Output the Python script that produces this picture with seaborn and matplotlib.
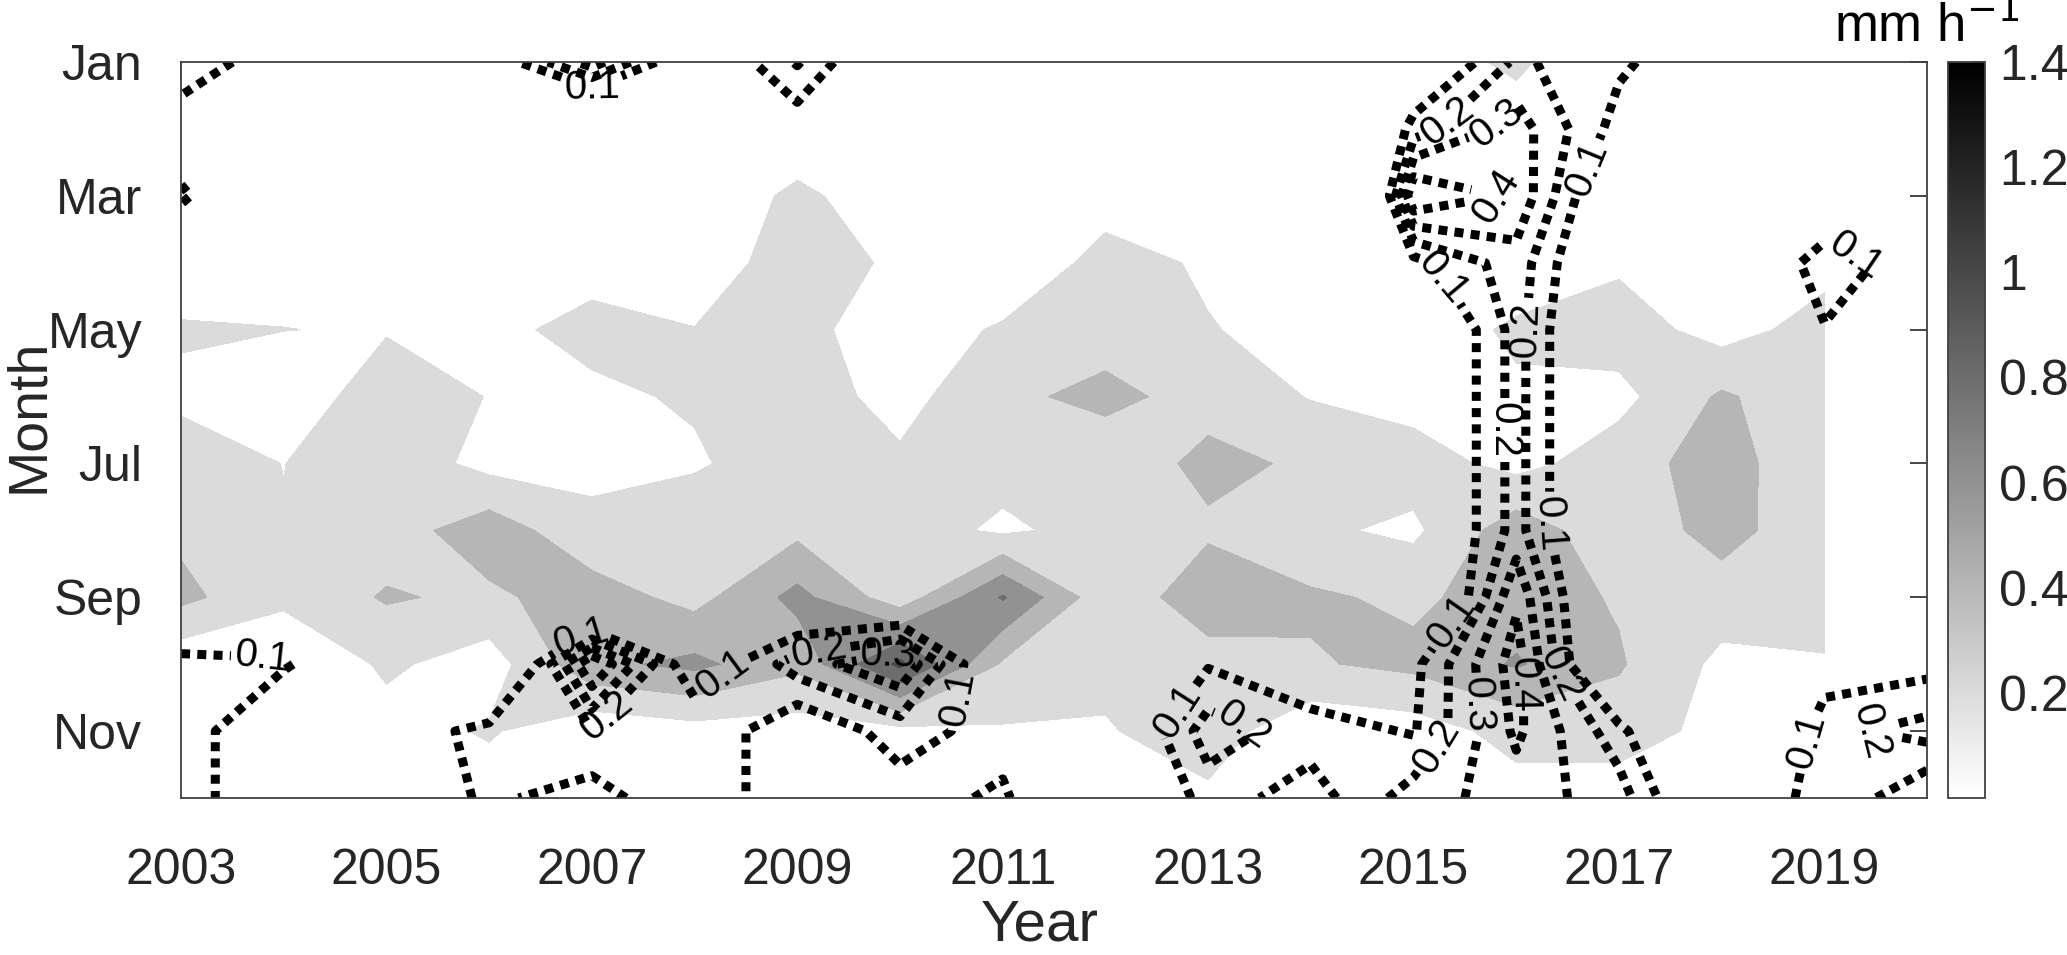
import numpy as np
import matplotlib
matplotlib.use("Agg")
import matplotlib.pyplot as plt
from matplotlib.colors import Normalize
from matplotlib.cm import ScalarMappable
import seaborn as sns

sns.set_style("white")
plt.rcParams['font.family'] = ['Liberation Sans', 'DejaVu Sans']

# grid: years (x) and months (y)
years = [2003, 2004, 2005, 2006, 2007, 2008, 2009, 2010, 2011, 2012,
         2013, 2014, 2015, 2016, 2017, 2018, 2019, 2020]
months = [1, 2, 3, 4, 5, 6, 7, 8, 9, 10, 11, 12]
month_ticks = [1, 3, 5, 7, 9, 11]
month_labels = ['Jan', 'Mar', 'May', 'Jul', 'Sep', 'Nov']
year_ticks = [2003, 2005, 2007, 2009, 2011, 2013, 2015, 2017, 2019]
nan = np.nan

# filled field: monthly mean rain rate (mm/h), 2020 missing
rate_jan = [0.08, 0.08, 0.08, 0.08, 0.08, 0.08, 0.08, 0.08, 0.08, 0.08, 0.08, 0.08, 0.12, 0.23, 0.05, 0.05, 0.05, nan]
rate_feb = [0.10, 0.10, 0.10, 0.10, 0.10, 0.10, 0.10, 0.10, 0.10, 0.10, 0.10, 0.10, 0.10, 0.12, 0.10, 0.10, 0.10, nan]
rate_mar = [0.08, 0.08, 0.08, 0.08, 0.08, 0.094, 0.23, 0.115, 0.10, 0.127, 0.10, 0.08, 0.08, 0.10, 0.10, 0.08, 0.08, nan]
rate_apr = [0.087, 0.15, 0.10, 0.10, 0.124, 0.087, 0.30, 0.165, 0.06, 0.26, 0.179, 0.10, 0.08, 0.12, 0.167, 0.10, 0.133, nan]
rate_may = [0.22, 0.202, 0.19, 0.15, 0.26, 0.205, 0.25, 0.107, 0.221, 0.32, 0.208, 0.146, 0.13, 0.22, 0.30, 0.118, 0.282, nan]
rate_jun = [0.163, 0.11, 0.28, 0.195, 0.16, 0.2245, 0.30, 0.128, 0.36, 0.45, 0.33, 0.189, 0.12, 0.18, 0.139, 0.43, 0.25, nan]
rate_jul = [0.29, 0.197, 0.33, 0.135, 0.15, 0.172, 0.33, 0.235, 0.266, 0.28, 0.45, 0.37, 0.29, 0.135, 0.304, 0.50, 0.22, nan]
rate_aug = [0.36, 0.21, 0.30, 0.517, 0.25, 0.36, 0.35, 0.29, 0.166, 0.27, 0.37, 0.234, 0.16, 0.517, 0.26, 0.48, 0.25, nan]
rate_sep = [0.45, 0.25, 0.42, 0.36, 0.50, 0.33, 0.662, 0.28, 0.82, 0.26, 0.52, 0.43, 0.36, 0.50, 0.38, 0.30, 0.25, nan]
rate_oct = [0.05, 0.0, 0.235, 0.10, 0.55, 0.65, 0.45, 1.05, 0.37, 0.25, 0.313, 0.38, 0.45, 0.62, 0.42, 0.15, 0.19, nan]
rate_nov = [0.10, 0.05, 0.118, 0.22, 0.05, 0.12, 0.10, 0.14, 0.18, 0.184, 0.30, 0.05, 0.10, 0.27, 0.30, 0.133, 0.10, nan]
rate_dec = [0.05, 0.05, 0.05, 0.10, 0.05, 0.05, 0.05, 0.05, 0.08, 0.08, 0.163, 0.08, 0.10, 0.12, 0.087, 0.05, 0.05, nan]

# dotted contours: second field
anom_jan = [0.20, 0.0, -0.05, 0.0, 0.35, -0.05, 0.21, -0.10, -0.10, -0.10, -0.10, 0.0, -0.08, 0.22, 0.12, 0.0, -0.10, -0.10]
anom_feb = [0.0, -0.10, -0.10, -0.10, -0.30, -0.10, 0.027, -0.10, -0.10, -0.10, -0.10, -0.50, 0.15, 0.35, 0.056, -0.10, -0.10, -0.10]
anom_mar = [0.12, -0.10, -0.10, -0.10, -0.10, -0.10, -0.10, -0.10, -0.10, -0.10, -0.10, -1.20, 0.50, 0.38, -0.10, -0.10, -0.10, -0.10]
anom_apr = [-0.05, -0.10, -0.10, -0.10, -0.10, -0.10, -0.10, -0.10, -0.10, -0.10, -0.10, -0.60, 0.06, 0.26, -0.14, -0.20, 0.19, 0.0]
anom_may = [-0.10, -0.10, -0.10, -0.10, -0.10, -0.10, -0.10, -0.10, -0.10, -0.10, -0.10, -0.20, -0.12, 0.24, -0.19, -0.10, 0.09, -0.10]
anom_jun = [-0.10, -0.10, -0.10, -0.10, -0.10, -0.10, -0.10, -0.10, -0.10, -0.10, -0.10, -0.10, -0.12, 0.24, -0.19, -0.10, -0.10, -0.10]
anom_jul = [-0.10, -0.10, -0.10, -0.10, -0.10, -0.10, -0.10, -0.10, -0.10, -0.10, -0.10, -0.10, -0.12, 0.24, -0.19, -0.10, -0.10, -0.10]
anom_aug = [-0.10, -0.10, -0.10, -0.10, -0.10, -0.10, -0.10, -0.10, -0.10, -0.10, -0.10, -0.10, -0.12, 0.24, -0.19, -0.10, -0.10, -0.10]
anom_sep = [0.02, 0.0, -0.10, -0.10, -0.30, -0.10, -0.10, -0.10, -0.10, -0.10, -0.10, -0.10, -0.22, 0.38, -0.23, -0.10, -0.10, -0.10]
anom_oct = [0.115, 0.11, 0.0, -0.25, 0.50, 0.0, 0.25, 0.38, -0.07, -0.10, 0.09, 0.0, 0.07, 0.45, -0.22, -0.10, 0.031, 0.06]
anom_nov = [0.15, 0.0, 0.0, 0.15, 0.20, 0.20, 0.0, 0.15, 0.05, -0.09, 0.25, 0.15, 0.09, 0.42, 0.14, -0.29, 0.169, 0.24]
anom_dec = [0.15, 0.0, 0.0, 0.12, 0.05, 0.20, 0.0, 0.05, 0.12, -0.15, 0.15, 0.05, 0.25, 0.35, 0.25, -0.15, 0.20, 0.0]

fill_levels = [0, 0.2, 0.4, 0.6, 0.8, 1.0, 1.2, 1.4]
line_levels = [0.1, 0.2, 0.3, 0.4]

# where the contour labels sit (year, month)
label_spots = [(2007.0, 1.4), (2015.4, 2.0), (2015.8, 1.9), (2015.8, 3.0), (2015.3, 4.2),
               (2016.7, 2.6), (2016.0, 5.0), (2015.9, 6.5), (2016.4, 7.9), (2015.3, 9.3),
               (2015.7, 10.6), (2016.0, 10.3), (2016.4, 10.2), (2015.2, 11.2),
               (2019.3, 3.9), (2003.8, 9.8), (2006.9, 9.6), (2007.3, 11.0),
               (2008.4, 10.4), (2009.2, 9.7), (2009.9, 10.0), (2010.5, 10.5),
               (2012.7, 10.7), (2013.4, 10.7), (2018.7, 11.1), (2019.4, 11.4)]

rate = np.ma.masked_invalid(np.array([rate_jan, rate_feb, rate_mar, rate_apr, rate_may, rate_jun,
                                      rate_jul, rate_aug, rate_sep, rate_oct, rate_nov, rate_dec]))
anom = np.array([anom_jan, anom_feb, anom_mar, anom_apr, anom_may, anom_jun,
                 anom_jul, anom_aug, anom_sep, anom_oct, anom_nov, anom_dec])
X, Y = np.meshgrid(years, months)

# each band takes the colour of its lower level (white -> black over 0..1.4)
cmap = plt.get_cmap('gray_r')
norm = Normalize(0, 1.4)
band_colors = [cmap(norm(l)) for l in fill_levels[:-1]]

ink = '#262626'
fig = plt.figure(figsize=(20.67, 9.55), dpi=100)
ax = fig.add_axes([0.0876, 0.1644, 0.8447, 0.7706])
cax = fig.add_axes([0.9424, 0.1644, 0.0179, 0.7706])

ax.contourf(X, Y, rate, levels=fill_levels, colors=band_colors)
cs = ax.contour(X, Y, anom, levels=line_levels, colors='k', linewidths=6.5)
cs.set_linestyle((0, (1, 0.8)))
cs.set_capstyle('butt')

ax.set_xlim(2003, 2020)
ax.set_ylim(12, 1)
ax.clabel(cs, fmt='%.1f', fontsize=29, inline=True, inline_spacing=4, manual=label_spots)

ax.set_xticks(year_ticks)
ax.set_xticklabels([str(y) for y in year_ticks])
ax.set_yticks(month_ticks)
ax.set_yticklabels(month_labels)
ax.tick_params(direction='in', length=12, width=1.2, color=ink, labelcolor=ink,
               labelsize=36, top=True, right=True)
ax.tick_params(axis='x', pad=36)
ax.tick_params(axis='y', pad=28)
for s in ax.spines.values():
    s.set_color('#404040')
    s.set_linewidth(1.3)
ax.set_xlabel('Year', fontsize=42, color=ink)
ax.set_ylabel('Month', fontsize=40, color=ink)
ax.xaxis.set_label_coords(0.492, -0.136)
ax.yaxis.set_label_coords(-0.072, 0.52)

cb = fig.colorbar(ScalarMappable(norm=norm, cmap=cmap), cax=cax)
cb.set_ticks([0.2, 0.4, 0.6, 0.8, 1.0, 1.2, 1.4])
cb.set_ticklabels(['0.2', '0.4', '0.6', '0.8', '1', '1.2', '1.4'])
cb.outline.set_edgecolor('#404040')
cb.outline.set_linewidth(1.3)
cax.tick_params(direction='in', length=10, width=1.2, color=ink, labelcolor=ink,
                labelsize=36, pad=10)
fig.text(0.932, 0.972, 'mm h$^{-1}$', fontsize=38, color='black', ha='center', va='center')

fig.savefig('out.png', dpi=100)
